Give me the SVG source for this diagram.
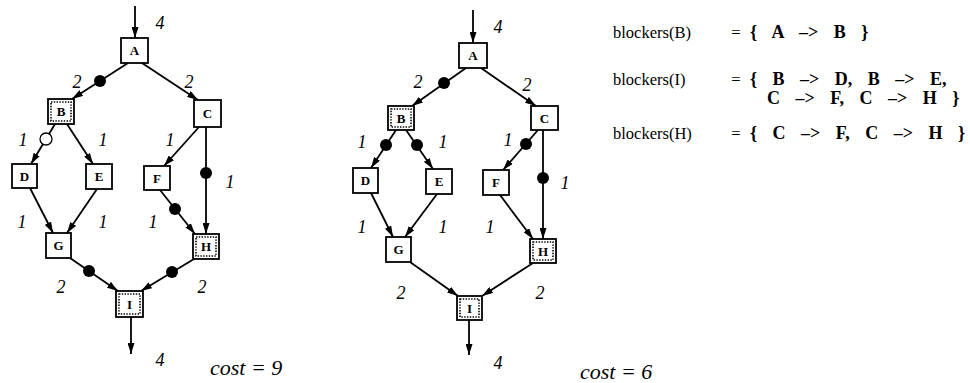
<svg xmlns="http://www.w3.org/2000/svg" width="970" height="383" viewBox="0 0 970 383">
<style>
.box{fill:#fff;stroke:#000;stroke-width:1.8}
.inner{fill:none;stroke:#000;stroke-width:1.6;stroke-dasharray:1.4 1.4}
.nl{font-family:"Liberation Serif","Times New Roman","DejaVu Serif",serif;font-weight:bold;font-size:13px;text-anchor:middle}
.ea{stroke:#000;stroke-width:1.8;fill:none;marker-end:url(#ah)}
.dot{fill:#000}
.odot{fill:#fff;stroke:#000;stroke-width:1.3}
.lab{font-family:"Liberation Serif","Times New Roman","DejaVu Serif",serif;font-style:italic;font-size:18px;text-anchor:middle}
.cost{font-family:"Liberation Serif","Times New Roman","DejaVu Serif",serif;font-style:italic;font-size:22px}
.t{font-family:"Liberation Serif","Times New Roman","DejaVu Serif",serif;font-size:16.5px}
.tb{font-family:"Liberation Serif","Times New Roman","DejaVu Serif",serif;font-size:18px;font-weight:bold;word-spacing:11px}
</style>
<defs>
<marker id="ah" markerUnits="userSpaceOnUse" markerWidth="11" markerHeight="7" refX="11" refY="3.5" orient="auto">
<path d="M0,0 L11,3.5 L0,7 z" fill="#000"/>
</marker>
</defs>
<rect width="970" height="383" fill="#fff"/>
<g id="connectors">
<line class="ea" x1="135" y1="6" x2="135" y2="38"/>
<line class="ea" x1="128" y1="63" x2="72" y2="99"/>
<line class="ea" x1="142" y1="63" x2="198" y2="100"/>
<line class="ea" x1="55" y1="124" x2="31" y2="164"/>
<line class="ea" x1="67" y1="124" x2="93" y2="164"/>
<line class="ea" x1="199" y1="127" x2="164" y2="166"/>
<line class="ea" x1="206" y1="127" x2="206" y2="234"/>
<line class="ea" x1="30" y1="188" x2="53" y2="233"/>
<line class="ea" x1="97" y1="189" x2="67" y2="233"/>
<line class="ea" x1="160" y1="190" x2="195" y2="234"/>
<line class="ea" x1="70" y1="258" x2="118" y2="291"/>
<line class="ea" x1="194" y1="259" x2="141" y2="291"/>
<line class="ea" x1="131" y1="317" x2="131" y2="354"/>
<circle class="dot" cx="100" cy="81" r="6"/>
<circle class="odot" cx="46" cy="139" r="6"/>
<circle class="dot" cx="206" cy="173" r="6"/>
<circle class="dot" cx="175" cy="209" r="6"/>
<circle class="dot" cx="89" cy="271" r="6"/>
<circle class="dot" cx="172" cy="272" r="6"/>
<line class="ea" x1="473" y1="10" x2="473" y2="43"/>
<line class="ea" x1="466" y1="68" x2="412" y2="106"/>
<line class="ea" x1="481" y1="68" x2="536" y2="106"/>
<line class="ea" x1="396" y1="130" x2="371" y2="168"/>
<line class="ea" x1="406" y1="130" x2="433" y2="169"/>
<line class="ea" x1="538" y1="130" x2="503" y2="170"/>
<line class="ea" x1="543" y1="130" x2="543" y2="239"/>
<line class="ea" x1="371" y1="193" x2="393" y2="237"/>
<line class="ea" x1="437" y1="194" x2="405" y2="237"/>
<line class="ea" x1="500" y1="195" x2="533" y2="239"/>
<line class="ea" x1="410" y1="262" x2="458" y2="296"/>
<line class="ea" x1="533" y1="263" x2="482" y2="296"/>
<line class="ea" x1="469" y1="320" x2="469" y2="355"/>
<circle class="dot" cx="444" cy="83" r="6"/>
<circle class="dot" cx="386" cy="145" r="6"/>
<circle class="dot" cx="417" cy="145" r="6"/>
<circle class="dot" cx="526" cy="144" r="6"/>
<circle class="dot" cx="543" cy="178" r="6"/>
</g>
<g id="L-A"><rect class="box" x="121" y="38" width="27" height="25"/><text class="nl" x="134.5" y="55">A</text></g>
<g id="L-B"><rect class="box" x="48" y="99" width="26" height="25"/><rect class="inner" x="51" y="102" width="20" height="19"/><text class="nl" x="61" y="116">B</text></g>
<g id="L-C"><rect class="box" x="194" y="100" width="27" height="27"/><text class="nl" x="207.5" y="118">C</text></g>
<g id="L-D"><rect class="box" x="12" y="164" width="25" height="24"/><text class="nl" x="24.5" y="181">D</text></g>
<g id="L-E"><rect class="box" x="86" y="164" width="26" height="25"/><text class="nl" x="99" y="181">E</text></g>
<g id="L-F"><rect class="box" x="144" y="166" width="26" height="24"/><text class="nl" x="157" y="183">F</text></g>
<g id="L-G"><rect class="box" x="46" y="233" width="25" height="25"/><text class="nl" x="58.5" y="250">G</text></g>
<g id="L-H"><rect class="box" x="193" y="234" width="26" height="25"/><rect class="inner" x="196" y="237" width="20" height="19"/><text class="nl" x="206" y="251">H</text></g>
<g id="L-I"><rect class="box" x="116" y="291" width="27" height="26"/><rect class="inner" x="119" y="294" width="21" height="20"/><text class="nl" x="129.5" y="308.5">I</text></g>
<g id="R-A"><rect class="box" x="459" y="43" width="28" height="25"/><text class="nl" x="473" y="60">A</text></g>
<g id="R-B"><rect class="box" x="388" y="106" width="26" height="24"/><rect class="inner" x="391" y="109" width="20" height="18"/><text class="nl" x="401" y="122.5">B</text></g>
<g id="R-C"><rect class="box" x="531" y="106" width="27" height="24"/><text class="nl" x="544.5" y="122.5">C</text></g>
<g id="R-D"><rect class="box" x="353" y="168" width="25" height="25"/><text class="nl" x="365.5" y="185">D</text></g>
<g id="R-E"><rect class="box" x="426" y="169" width="26" height="25"/><text class="nl" x="439" y="186">E</text></g>
<g id="R-F"><rect class="box" x="483" y="170" width="26" height="25"/><text class="nl" x="496" y="187">F</text></g>
<g id="R-G"><rect class="box" x="386" y="237" width="25" height="25"/><text class="nl" x="398.5" y="254">G</text></g>
<g id="R-H"><rect class="box" x="530" y="239" width="26" height="24"/><rect class="inner" x="533" y="242" width="20" height="18"/><text class="nl" x="543" y="255.5">H</text></g>
<g id="R-I"><rect class="box" x="457" y="296" width="25" height="24"/><rect class="inner" x="460" y="299" width="19" height="18"/><text class="nl" x="469.5" y="312.5">I</text></g>
<g id="labels">
<text class="lab" x="160" y="29">4</text>
<text class="lab" x="77" y="88">2</text>
<text class="lab" x="189" y="88">2</text>
<text class="lab" x="23" y="146">1</text>
<text class="lab" x="103" y="146">1</text>
<text class="lab" x="170" y="146">1</text>
<text class="lab" x="230" y="188">1</text>
<text class="lab" x="22" y="228">1</text>
<text class="lab" x="103" y="228">1</text>
<text class="lab" x="153" y="228">1</text>
<text class="lab" x="61" y="293">2</text>
<text class="lab" x="202" y="293">2</text>
<text class="lab" x="160" y="366">4</text>
<text class="cost" x="210" y="375">cost = 9</text>
<text class="lab" x="498" y="33">4</text>
<text class="lab" x="418" y="88">2</text>
<text class="lab" x="527" y="91">2</text>
<text class="lab" x="362" y="148">1</text>
<text class="lab" x="443" y="148">1</text>
<text class="lab" x="508" y="146">1</text>
<text class="lab" x="565" y="189">1</text>
<text class="lab" x="362" y="233">1</text>
<text class="lab" x="443" y="233">1</text>
<text class="lab" x="490" y="233">1</text>
<text class="lab" x="401" y="299">2</text>
<text class="lab" x="540" y="299">2</text>
<text class="lab" x="498" y="369">4</text>
<text class="cost" x="580" y="379">cost = 6</text>
</g>
<g id="blockers">
<text class="t" x="613" y="38">blockers(B)</text>
<text class="t" x="736" y="38" text-anchor="middle">=</text>
<text class="tb" x="750" y="38">{ A –&gt; B }</text>
<text class="t" x="613" y="85">blockers(I)</text>
<text class="t" x="736" y="85" text-anchor="middle">=</text>
<text class="tb" x="750" y="85">{ B –&gt; D, B –&gt; E,</text>
<text class="tb" x="767" y="104">C –&gt; F, C –&gt; H }</text>
<text class="t" x="613" y="139">blockers(H)</text>
<text class="t" x="736" y="139" text-anchor="middle">=</text>
<text class="tb" x="750" y="139">{ C –&gt; F, C –&gt; H }</text>
</g>
</svg>
